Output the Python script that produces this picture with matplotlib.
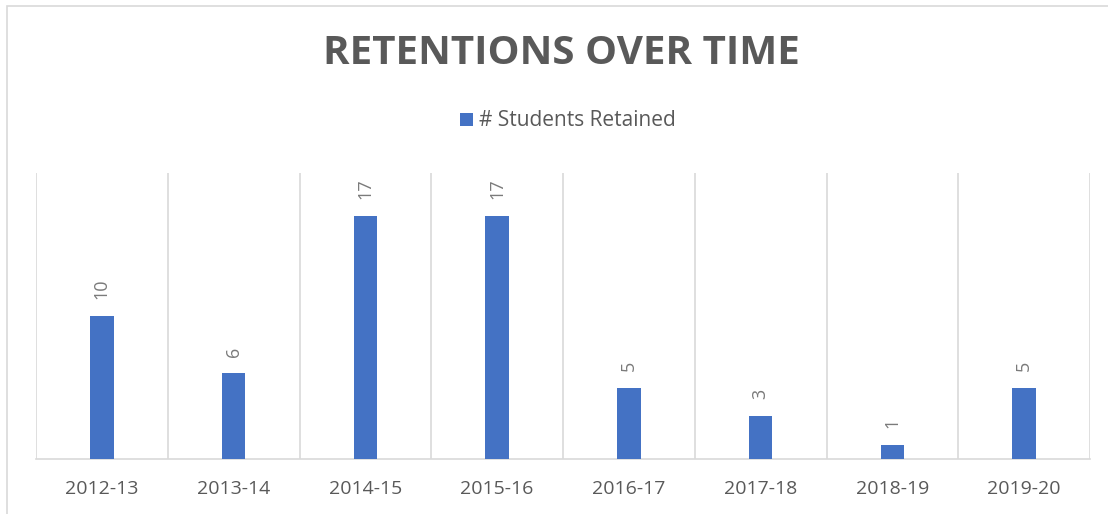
import matplotlib
matplotlib.use("Agg")
import matplotlib.pyplot as plt
from matplotlib.patches import Rectangle
import numpy as np

# data
years = ["2012-13", "2013-14", "2014-15", "2015-16", "2016-17", "2017-18", "2018-19", "2019-20"]
retained = [10, 6, 17, 17, 5, 3, 1, 5]
series_name = "# Students Retained"

bar_color = "#4472C4"
grid_color = "#d9d9d9"
text_color = "#595959"

plt.rcParams["font.family"] = ["Open Sans", "DejaVu Sans"]

W, H = 1108, 514
fig = plt.figure(figsize=(W / 100, H / 100), dpi=100)
ax = fig.add_axes([36 / W, 1 - 459 / H, (1090 - 36) / W, (459 - 173) / H])

x = np.arange(len(years))
bars = ax.bar(x, retained, width=0.18, color=bar_color, label=series_name, zorder=3)

ax.set_xlim(-0.5, len(years) - 0.5)
ax.set_ylim(0, 20)
ax.set_yticks([])
ax.set_xticks(x)
ax.set_xticklabels(years, fontsize=14, color=text_color)
ax.set_xticks(np.arange(-0.5, len(years), 1), minor=True)
ax.tick_params(axis="x", which="both", length=0, pad=15)
ax.grid(which="minor", axis="x", color=grid_color, linewidth=1.2, zorder=0)
for s in ["top", "left", "right"]:
    ax.spines[s].set_visible(False)
ax.spines["bottom"].set_color(grid_color)
ax.spines["bottom"].set_linewidth(1.2)

# rotated value labels above the bars
for b, v in zip(bars, retained):
    ax.annotate(str(v), (b.get_x() + b.get_width() / 2, v), xytext=(0, 12),
                textcoords="offset points", rotation=90, ha="center", va="bottom",
                fontsize=13, color="#7a7a7a")

fig.text(561 / W, 1 - 53 / H, "RETENTIONS OVER TIME", ha="center", va="center",
         fontsize=29, fontweight="bold", color=text_color)

fig.legend(handles=[bars], labels=[series_name], loc="center",
           bbox_to_anchor=(568 / W, 1 - 121 / H), frameon=False, fontsize=15,
           handlelength=0.6, handleheight=0.6, handletextpad=0.3,
           labelcolor=text_color)

# chart border (runs off the right and bottom of the image)
fig.patches.append(Rectangle((7 / W, -0.1), 1.2, 1 - 6 / H + 0.1, transform=fig.transFigure,
                             fill=False, edgecolor=grid_color, linewidth=1.2))

fig.savefig("out.png", dpi=100)
